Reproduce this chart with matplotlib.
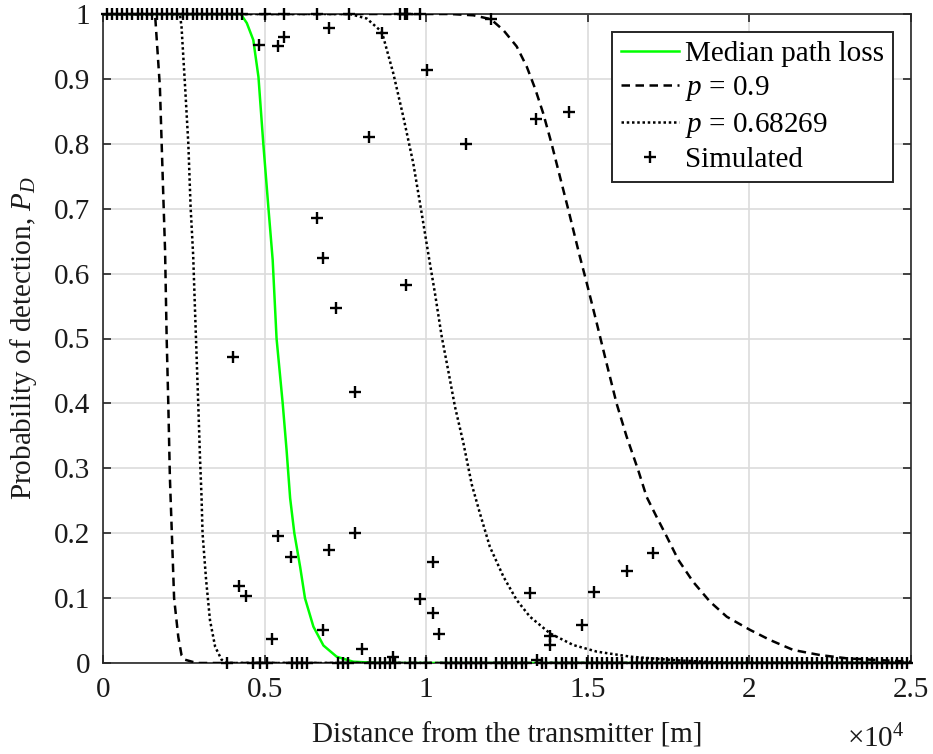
import matplotlib
matplotlib.use("Agg")
import matplotlib.pyplot as plt
from matplotlib.ticker import FuncFormatter

plt.rcParams['font.family'] = ['Liberation Serif', 'DejaVu Serif']
plt.rcParams['mathtext.fontset'] = 'custom'
plt.rcParams['mathtext.rm'] = 'Liberation Serif'
plt.rcParams['mathtext.it'] = 'Liberation Serif:italic'

# ---- data (distances in units of 1e3 m) ----
median_x = [0, 4.24, 4.29, 4.45, 4.65, 4.81, 4.96, 5.12, 5.25, 5.37, 5.56, 5.68, 5.79,
            5.92, 6.10, 6.25, 6.51, 6.82, 7.23, 7.74, 8.5, 25.0]
median_y = [1, 1, 0.998, 0.986, 0.96, 0.903, 0.80, 0.70, 0.621, 0.50, 0.40, 0.328, 0.254,
            0.20, 0.148, 0.0997, 0.056, 0.027, 0.0097, 0.002, 0, 0]

p90_low_x = [0, 1.61, 1.76, 1.87, 1.92, 1.97, 2.02, 2.07, 2.13, 2.20, 2.33, 2.43, 2.54, 2.9, 25.0]
p90_low_y = [1, 1, 0.888, 0.713, 0.636, 0.50, 0.40, 0.285, 0.20, 0.0997, 0.040, 0.012, 0.005, 0, 0]

p90_high_x = [0, 10.74, 11.46, 12.0, 12.39, 12.80, 13.11, 13.37, 13.62, 13.88, 14.14, 14.40,
              14.75, 14.97, 15.28, 15.58, 15.89, 16.20, 16.56, 16.82, 17.13, 17.44, 17.80,
              18.26, 18.78, 19.30, 20.02, 20.64, 21.36, 22.18, 23.01, 23.94, 25.0]
p90_high_y = [1, 1, 0.998, 0.992, 0.975, 0.950, 0.919, 0.885, 0.847, 0.80, 0.749, 0.698,
              0.627, 0.585, 0.523, 0.462, 0.40, 0.349, 0.297, 0.256, 0.225, 0.195, 0.159,
              0.125, 0.0945, 0.0713, 0.051, 0.0354, 0.020, 0.0123, 0.0072, 0.0046, 0.002]

p68_low_x = [0, 2.38, 2.43, 2.54, 2.64, 2.71, 2.79, 2.85, 2.90, 2.95, 3.00, 3.05, 3.08, 3.19,
             3.31, 3.47, 3.67, 3.83, 25.0]
p68_low_y = [1, 1, 0.98, 0.888, 0.80, 0.703, 0.628, 0.539, 0.467, 0.395, 0.318, 0.254, 0.20,
             0.128, 0.066, 0.025, 0.005, 0, 0]

p68_high_x = [0, 7.64, 8.16, 8.57, 8.67, 8.98, 9.29, 9.60, 9.86, 10.08, 10.27, 10.48, 10.68,
              10.89, 11.15, 11.41, 11.66, 11.97, 12.39, 12.80, 13.21, 13.83, 14.55, 15.28,
              16.31, 17.34, 17.80, 19.0, 21.0, 25.0]
p68_high_y = [1, 1, 0.993, 0.975, 0.965, 0.909, 0.842, 0.770, 0.693, 0.626, 0.570, 0.503,
              0.451, 0.395, 0.339, 0.275, 0.231, 0.179, 0.133, 0.097, 0.0713, 0.0457,
              0.0277, 0.0175, 0.0098, 0.0057, 0.004, 0.001, 0, 0]

sim_x = [
    # detections at top row
    0.13, 0.29, 0.44, 0.60, 0.75, 0.91, 1.07, 1.22, 1.37, 1.53, 1.68, 1.84, 1.99, 2.15,
    2.30, 2.46, 2.61, 2.77, 2.92, 3.07, 3.23, 3.38, 3.54, 3.69, 3.85, 4.00, 4.16, 4.31,
    5.01, 5.61, 6.61, 7.62, 9.19, 9.34, 9.40, 9.81,
    # intermediate values
    4.84, 5.43, 5.61, 7.00, 8.62, 8.22, 6.61, 10.01, 11.22, 12.0, 13.40, 14.42,
    6.82, 7.21, 4.01, 7.81, 9.38,
    5.41, 5.81, 7.00, 7.81, 4.22, 4.42, 6.82, 5.22, 8.01, 8.98,
    10.22, 9.81, 10.22, 10.41, 13.21, 13.83, 13.83, 14.81, 15.20, 16.20, 17.03, 13.42,
    # zeros at bottom row
    3.83, 4.65, 4.86, 5.07, 5.84, 5.99, 6.15, 6.30, 7.28, 7.44, 7.59, 8.26, 8.42, 8.57,
    8.73, 8.88, 9.03, 9.50, 9.65,
    10.0, 10.62, 10.78, 10.93, 11.09, 11.24, 11.40, 11.55, 11.71, 11.86, 12.17, 12.33,
    12.48, 12.64, 12.79, 12.95, 13.10, 13.57, 13.72, 14.03, 14.19, 14.34, 14.50, 14.65,
    14.96, 15.12, 15.27, 15.43, 15.58, 15.74, 15.89, 16.05, 16.36, 16.51, 16.67, 16.82,
    16.98, 17.13, 17.29, 17.44, 17.60, 17.75, 17.91, 18.06, 18.22, 18.37, 18.53, 18.68,
    18.84, 18.99, 19.15, 19.30, 19.46, 19.61, 19.77, 19.92, 20.08, 20.23, 20.39, 20.54,
    20.70, 20.85, 21.01, 21.16, 21.32, 21.47, 21.63, 21.78, 21.94, 22.09, 22.25, 22.40,
    22.56, 22.71, 22.87, 23.02, 23.18, 23.33, 23.49, 23.64, 23.80, 23.95, 24.11, 24.26,
    24.42, 24.57, 24.73, 24.88,
]
sim_y = [
    1, 1, 1, 1, 1, 1, 1, 1, 1, 1, 1, 1, 1, 1,
    1, 1, 1, 1, 1, 1, 1, 1, 1, 1, 1, 1, 1, 1,
    1, 1, 1, 1, 1, 1, 1, 1,
    0.952, 0.950, 0.964, 0.978, 0.971, 0.810, 0.686, 0.914, 0.799, 0.993, 0.838, 0.849,
    0.624, 0.547, 0.472, 0.418, 0.582,
    0.195, 0.163, 0.174, 0.201, 0.118, 0.103, 0.051, 0.037, 0.022, 0.010,
    0.155, 0.098, 0.077, 0.045, 0.108, 0.041, 0.027, 0.058, 0.110, 0.142, 0.170, 0.005,
    0, 0, 0, 0, 0, 0, 0, 0, 0, 0, 0, 0, 0, 0,
    0, 0, 0, 0, 0,
    0, 0, 0, 0, 0, 0, 0, 0, 0, 0, 0, 0,
    0, 0, 0, 0, 0, 0, 0, 0, 0, 0, 0, 0,
    0, 0, 0, 0, 0, 0, 0, 0, 0, 0, 0, 0,
    0, 0, 0, 0, 0, 0, 0, 0, 0, 0, 0, 0,
    0, 0, 0, 0, 0, 0, 0, 0, 0, 0, 0, 0,
    0, 0, 0, 0, 0, 0, 0, 0, 0, 0, 0, 0,
    0, 0, 0, 0, 0, 0, 0, 0, 0, 0, 0, 0,
    0, 0, 0, 0,
]

x_ticks = [0, 5000, 10000, 15000, 20000, 25000]
y_ticks = [0, 0.1, 0.2, 0.3, 0.4, 0.5, 0.6, 0.7, 0.8, 0.9, 1.0]

def m(xs):
    return [v * 1000 for v in xs]

FS = 21
fig = plt.figure(figsize=(9.33, 7.54), dpi=100)
ax = fig.add_axes([103/933, 1 - 663/754, 808/933, 649/754])

dash = (0, (3.4, 2.2))
dot = (0, (1, 1.1))
ax.plot(m(median_x), median_y, color='#00ff00', lw=1.8, label='Median path loss', zorder=3)
ax.plot(m(p90_low_x), p90_low_y, color='black', lw=1.8, linestyle=dash, label='$p$ = 0.9', zorder=3)
ax.plot(m(p90_high_x), p90_high_y, color='black', lw=1.8, linestyle=dash, zorder=3)
ax.plot(m(p68_low_x), p68_low_y, color='black', lw=1.8, linestyle=dot, label='$p$ = 0.68269', zorder=3)
ax.plot(m(p68_high_x), p68_high_y, color='black', lw=1.8, linestyle=dot, zorder=3)
ax.plot(m(sim_x), sim_y, linestyle='none', marker='+', color='black', markersize=8,
        markeredgewidth=1.7, label='Simulated', zorder=4, clip_on=False)

ax.set_xlim(0, 25000)
ax.set_ylim(0, 1)
ax.set_xticks(x_ticks)
ax.set_yticks(y_ticks)
ax.xaxis.set_major_formatter(FuncFormatter(lambda v, p: f"{v/1e4:g}"))
ax.yaxis.set_major_formatter(FuncFormatter(lambda v, p: f"{v:g}"))
ax.grid(True, color='#dcdcdc', lw=1.2)
ax.set_axisbelow(True)
ax.tick_params(direction='in', top=True, right=True, length=6, width=1.2,
               labelsize=FS, color='#262626', labelcolor='#1a1a1a')
ax.tick_params(axis='x', pad=10)
ax.tick_params(axis='y', pad=9)
for s in ax.spines.values():
    s.set_color('#262626')
    s.set_linewidth(1.2)

ax.set_xlabel('Distance from the transmitter [m]', fontsize=FS, color='#1a1a1a', labelpad=14)
ax.set_ylabel('Probability of detection, $P_D$', fontsize=FS, color='#1a1a1a', labelpad=11)
fig.text(905/933, 0.5/754, r'$\times\mathregular{10}^{4}$', ha='right', va='bottom',
         fontsize=FS, color='#1a1a1a')

leg = ax.legend(loc='upper right', bbox_to_anchor=((893 - 103)/808, (663 - 32)/649),
                bbox_transform=ax.transAxes, fontsize=FS, handlelength=2.0,
                handletextpad=0.2, borderpad=0.3, labelspacing=0.25, fancybox=False,
                framealpha=1, edgecolor='#262626', borderaxespad=0)
leg.get_frame().set_linewidth(1.4)

fig.savefig('out.png', dpi=100)
